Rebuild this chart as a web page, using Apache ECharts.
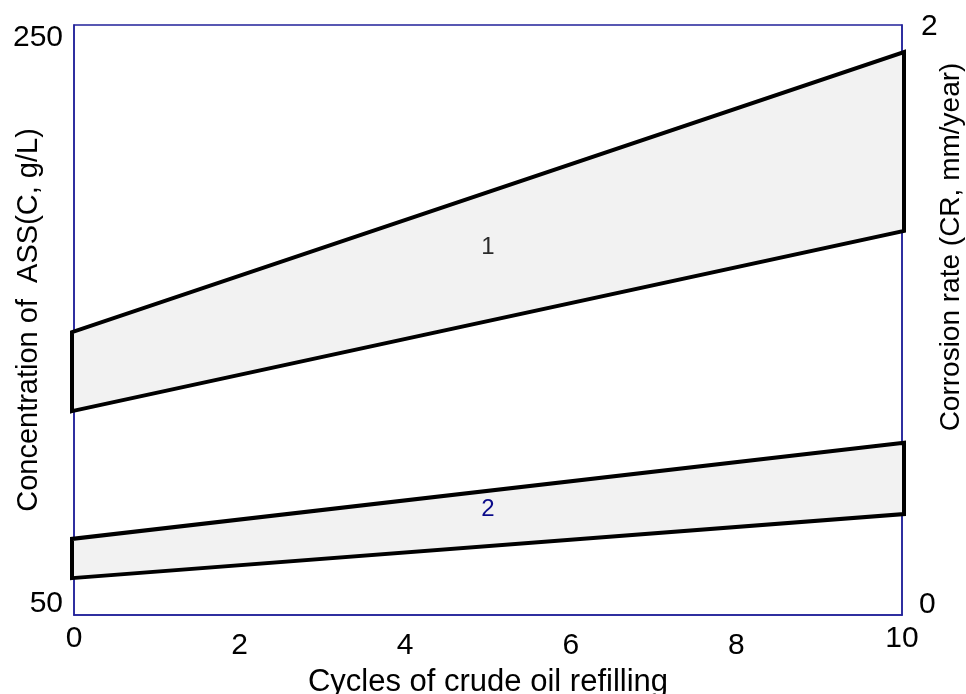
<!DOCTYPE html>
<html>
<head>
<meta charset="utf-8">
<script src="https://cdn.jsdelivr.net/npm/echarts@6/dist/echarts.min.js"></script>
<style>html,body{margin:0;padding:0;background:#fff}#c{width:966px;height:694px}</style>
</head>
<body>
<div id="c"></div>
<script>
// Data
var cycles = [0, 10];
var band1Upper = [145.9, 240.8];
var band1Lower = [119.1, 180.2];
var band2Upper = [75.8, 108.4];
var band2Lower = [62.5, 84.2];
var bandLabels = ['1', '2'];
var bandLabelPos = [[5, 174.7], [5, 85.9]];
var xTicks = [0, 2, 4, 6, 8, 10];
var leftTicks = [50, 250];
var rightTicks = [0, 2];

var NAVY = '#22229a';
var FONT = 'Liberation Sans';
var TICK = 30;

function makeBand(up, lo) {
  return {
    type: 'custom',
    yAxisIndex: 0,
    data: [[cycles[0], lo[0], up[0], cycles[1], lo[1], up[1]]],
    renderItem: function (params, api) {
      var x0 = api.value(0), l0 = api.value(1), u0 = api.value(2);
      var x1 = api.value(3), l1 = api.value(4), u1 = api.value(5);
      var pts = [api.coord([x0, l0]), api.coord([x1, l1]), api.coord([x1, u1]), api.coord([x0, u0])];
      pts[0][0] -= 2; pts[3][0] -= 2; pts[1][0] += 2; pts[2][0] += 2;
      return {
        type: 'polygon',
        shape: { points: pts },
        style: { fill: '#f2f2f2', stroke: '#000', lineWidth: 4, lineJoin: 'miter' }
      };
    },
    encode: { x: [0, 3], y: [1, 2, 4, 5] },
    z: 3
  };
}

var chart = echarts.init(document.getElementById('c'));
chart.setOption({
  animation: false,
  backgroundColor: '#fff',
  grid: { left: 74, right: 64, top: 25, bottom: 79, outerBoundsMode: 'none', containLabel: false,
          show: true, borderColor: NAVY, borderWidth: 1.5, backgroundColor: 'transparent' },
  xAxis: {
    type: 'value', min: xTicks[0], max: xTicks[xTicks.length - 1], interval: 2,
    axisLine: { show: true, lineStyle: { color: NAVY, width: 1.5 } },
    axisTick: { show: false }, splitLine: { show: false },
    axisLabel: {
      margin: 9, color: '#000', fontFamily: FONT, fontSize: TICK,
      formatter: function (v) { return (v === xTicks[0] || v === xTicks[xTicks.length - 1]) ? '{e|' + v + '}' : '{m|' + v + '}'; },
      rich: { e: { fontFamily: FONT, fontSize: TICK, color: '#000' }, m: { fontFamily: FONT, fontSize: TICK, color: '#000', padding: [7, 0, 0, 0] } }
    },
    name: 'Cycles of crude oil refilling', nameLocation: 'middle', nameGap: 52, nameMoveOverlap: false,
    nameTextStyle: { color: '#000', fontFamily: FONT, fontSize: 31 }
  },
  yAxis: [{
    type: 'value', min: 50, max: 250, interval: 50, position: 'left',
    axisLine: { show: true, lineStyle: { color: NAVY, width: 1.5 } },
    axisTick: { show: false }, splitLine: { show: false },
    axisLabel: {
      margin: 11, color: '#000', fontFamily: FONT, fontSize: TICK,
      formatter: function (v) {
        if (v === leftTicks[1]) return '{t|' + v + '}';
        if (v === leftTicks[0]) return '{b|' + v + '}';
        return '';
      },
      rich: { t: { fontFamily: FONT, fontSize: TICK, color: '#000', padding: [26, 0, 0, 0] }, b: { fontFamily: FONT, fontSize: TICK, color: '#000', padding: [0, 0, 22, 0] } }
    },
    name: 'Concentration of  ASS(C, g/L)', nameLocation: 'middle', nameGap: 31, nameRotate: 90, nameMoveOverlap: false,
    nameTextStyle: { color: '#000', fontFamily: FONT, fontSize: 29 }
  }, {
    type: 'value', min: rightTicks[0], max: rightTicks[1], interval: 2, position: 'right',
    axisLine: { show: true, lineStyle: { color: NAVY, width: 1.5 } },
    axisTick: { show: false }, splitLine: { show: false },
    axisLabel: {
      margin: 17, color: '#000', fontFamily: FONT, fontSize: TICK,
      formatter: function (v) { return v === rightTicks[0] ? '{b|' + v + '}' : '{t|' + v + '}'; },
      rich: { t: { fontFamily: FONT, fontSize: TICK, color: '#000', padding: [4, 0, 0, 2] }, b: { fontFamily: FONT, fontSize: TICK, color: '#000', padding: [0, 0, 20, 0] } }
    },
    name: 'Corrosion rate (CR, mm/year)', nameLocation: 'middle', nameGap: 35, nameRotate: 90, nameMoveOverlap: false,
    nameTextStyle: { color: '#000', fontFamily: FONT, fontSize: 28, padding: [0, 0, 0, 146] }
  }],
  series: [
    makeBand(band1Upper, band1Lower),
    makeBand(band2Upper, band2Lower),
    {
      type: 'scatter', yAxisIndex: 0, symbolSize: 0, z: 5,
      itemStyle: { opacity: 1 },
      data: bandLabelPos.map(function (p, i) {
        return {
          value: p,
          label: { show: true, position: 'inside', formatter: bandLabels[i], fontFamily: FONT, fontSize: 24, color: i === 0 ? '#2a2a2a' : '#0a0a8a' }
        };
      })
    }
  ]
});
</script>
</body>
</html>
